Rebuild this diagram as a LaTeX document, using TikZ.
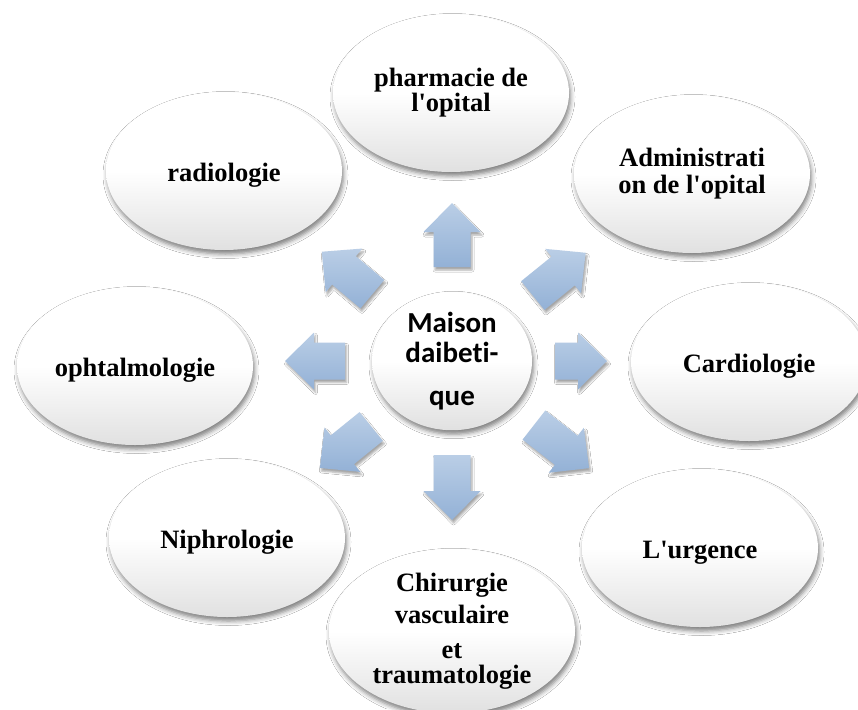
\documentclass[tikz,border=0pt]{standalone}
\usepackage{fontspec}
\setmainfont{Liberation Serif}
\newfontfamily\hubfont{Carlito}[Ligatures=NoCommon]
\usetikzlibrary{shapes.geometric,shadows.blur}

\definecolor{arrowtop}{HTML}{BACEE6}
\definecolor{arrowbot}{HTML}{93B1D6}

% block arrow pointing away from the hub: #1 angle, #2 inner radius, #3 outer radius
\newcommand\radialarrow[3]{%
  \path[blockarrow]
    ([shift={(c)},rotate=#1]#2,-18.5) --
    ([shift={(c)},rotate=#1]#3-29,-18.5) --
    ([shift={(c)},rotate=#1]#3-29,-28.5) --
    ([shift={(c)},rotate=#1]#3,0) --
    ([shift={(c)},rotate=#1]#3-29,28.5) --
    ([shift={(c)},rotate=#1]#3-29,18.5) --
    ([shift={(c)},rotate=#1]#2,18.5) -- cycle;}

\newcommand\apos{\textquotesingle}

\begin{document}
\begin{tikzpicture}[x=1pt,y=1pt,
  softshadow/.style={blur shadow={shadow xshift=1.5pt,shadow yshift=-4pt,
      shadow blur radius=4.5pt,shadow opacity=50}},
  unit/.style={ellipse,minimum width=236,minimum height=158,inner sep=0pt,
      top color=white,bottom color=black!12,middle color=white,softshadow,
      align=center,font=\fontsize{26.5}{25}\selectfont\bfseries,
      execute at begin node={\rule{0pt}{27pt}}},
  hub/.style={ellipse,minimum width=160,minimum height=134,inner sep=0pt,
      top color=white,bottom color=black!12,middle color=white,softshadow,
      align=center,font=\hubfont\fontsize{29}{30}\selectfont\bfseries},
  blockarrow/.style={top color=arrowtop,bottom color=arrowbot,
      blur shadow={shadow xshift=1.5pt,shadow yshift=-3pt,
      shadow blur radius=2pt,shadow opacity=35}}]

\fill[white] (0,0) rectangle (858,-709);
\useasboundingbox (0,0) rectangle (858,-709);

\coordinate (c) at (452,-361);

% outer units
\node[unit] (pharm)  at (451,-93)  {pharmacie de\\l\apos opital};
\node[unit] (radio)  at (224,-171) {radiologie};
\node[unit] (admin)  at (692,-174) {Administrati\\[2pt]on de l\apos opital};
\node[unit] (ophta)  at (135,-366) {ophtalmologie};
\node[unit] (cardio) at (749,-362) {Cardiologie};
\node[unit] (nephro) at (227,-538) {Niphrologie};
\node[unit] (urg)    at (700,-548) {L\apos urgence};
\node[unit,minimum width=246,execute at begin node={}] (chir) at (452,-631)
  {Chirurgie\\[7pt]vasculaire\\[10pt]et\\traumatologie};

% arrows radiating from the hub
\radialarrow{90}{94}{158}
\radialarrow{39}{104}{172}
\radialarrow{0}{103}{155}
\radialarrow{-38}{104}{174}
\radialarrow{-90}{94}{159}
\radialarrow{-141}{104}{170}
\radialarrow{180}{107}{167}
\radialarrow{140}{104}{170}

% hub
\node[hub] (centre) at (c) {Maison\\daibeti-\\[13pt]que};
\end{tikzpicture}
\end{document}
